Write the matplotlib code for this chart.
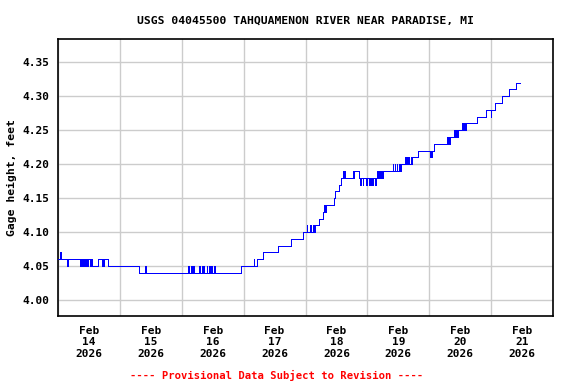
import datetime as dt

import matplotlib
matplotlib.use('Agg')
import matplotlib.pyplot as plt
import matplotlib.dates as mdates

# hours after 2026-02-14 00:00 where the gage reading changes, and the new reading (feet)
hours = [0.0, 0.6, 1.1, 3.6, 4.0,
         8.5, 9.0, 9.3, 9.55, 10.2, 10.45, 10.7, 10.95, 11.3, 11.55, 12.4, 12.65,
         13.3, 15.4, 16.9, 17.15, 17.5, 17.75, 19.5, 31.4, 33.7, 33.95,
         50.4, 50.65, 51.7, 51.95, 52.4, 52.65, 54.7, 54.95, 55.9, 56.15,
         56.5, 56.75, 57.6, 57.85, 58.6, 58.85, 59.5, 59.75, 60.5, 60.75,
         70.8, 75.9, 76.15, 77.2, 79.7, 85.5, 90.2, 95.0,
         96.5, 96.75, 97.8, 98.05, 99.1, 99.35,
         99.5, 101.2, 102.7, 103.2, 103.5, 104.0, 107.0, 107.6, 108.9, 109.8,
         110.6, 110.9, 111.1, 111.35, 114.3, 114.55, 115.0, 116.6,
         117.1, 117.35, 118.2, 118.45, 119.5, 119.75, 120.8, 121.05,
         121.4, 121.65, 122.1, 122.35, 123.1, 123.35,
         123.6, 123.85, 124.3, 124.55, 124.9, 125.15, 125.5, 125.75, 125.9,
         129.8, 130.05, 130.6, 130.85, 131.4, 131.65, 132.4, 132.65, 133.2,
         134.7, 134.95, 135.4, 135.65, 136.0, 136.25, 136.9, 137.15, 137.3, 139.5,
         144.3, 144.55, 145.0, 145.25, 145.9,
         150.7, 150.95, 151.4, 151.65, 152.0,
         153.7, 153.95, 154.4, 154.65, 155.0,
         156.8, 157.05, 157.5, 157.75, 158.4,
         162.7, 165.9, 167.8, 168.05, 169.5, 172.4, 175.0, 177.8, 179.1]
gage = [4.06, 4.07, 4.06, 4.05, 4.06,
        4.05, 4.06, 4.05, 4.06, 4.05, 4.06, 4.05, 4.06, 4.05, 4.06, 4.05, 4.06,
        4.05, 4.06, 4.05, 4.06, 4.05, 4.06, 4.05, 4.04, 4.05, 4.04,
        4.05, 4.04, 4.05, 4.04, 4.05, 4.04, 4.05, 4.04, 4.05, 4.04,
        4.05, 4.04, 4.05, 4.04, 4.05, 4.04, 4.05, 4.04, 4.05, 4.04,
        4.05, 4.06, 4.05, 4.06, 4.07, 4.08, 4.09, 4.10,
        4.11, 4.10, 4.11, 4.10, 4.11, 4.10,
        4.11, 4.12, 4.13, 4.14, 4.13, 4.14, 4.15, 4.16, 4.17, 4.18,
        4.19, 4.18, 4.19, 4.18, 4.19, 4.18, 4.19, 4.18,
        4.17, 4.18, 4.17, 4.18, 4.17, 4.18, 4.17, 4.18,
        4.17, 4.18, 4.17, 4.18, 4.17, 4.18,
        4.19, 4.18, 4.19, 4.18, 4.19, 4.18, 4.19, 4.18, 4.19,
        4.20, 4.19, 4.20, 4.19, 4.20, 4.19, 4.20, 4.19, 4.20,
        4.21, 4.20, 4.21, 4.20, 4.21, 4.20, 4.21, 4.20, 4.21, 4.22,
        4.21, 4.22, 4.21, 4.22, 4.23,
        4.24, 4.23, 4.24, 4.23, 4.24,
        4.25, 4.24, 4.25, 4.24, 4.25,
        4.26, 4.25, 4.26, 4.25, 4.26,
        4.27, 4.28, 4.27, 4.28, 4.29, 4.30, 4.31, 4.32, 4.32]

start = dt.datetime(2026, 2, 14)
times = [start + dt.timedelta(hours=h) for h in hours]
y_ticks = [4.00, 4.05, 4.10, 4.15, 4.20, 4.25, 4.30, 4.35]

mono = 'DejaVu Sans Mono'
fig = plt.figure(figsize=(5.76, 3.84), dpi=100)
ax = fig.add_axes([58 / 576, 1 - 316 / 384, 495 / 576, (316 - 39.3) / 384])

ax.plot(times, gage, color='#0000ff', linewidth=0.72, drawstyle='steps-post',
        antialiased=False, zorder=3)

ax.set_xlim(start, start + dt.timedelta(days=8))
ax.set_ylim(3.9765, 4.3838)

# gridlines at midnight, labels at noon
ax.xaxis.set_major_locator(mdates.DayLocator())
ax.xaxis.set_major_formatter(plt.NullFormatter())
ax.xaxis.set_minor_locator(mdates.HourLocator(byhour=[12]))
ax.xaxis.set_minor_formatter(mdates.DateFormatter('%b\n%d\n%Y'))
ax.set_yticks(y_ticks)
ax.set_yticklabels([f'{v:.2f}' for v in y_ticks])

ax.grid(True, which='major', color='#cccccc', linewidth=1.0)
ax.tick_params(axis='both', which='both', length=0)
ax.tick_params(axis='x', which='minor', pad=7)
ax.tick_params(axis='y', pad=6)
for lab in ax.get_xticklabels(minor=True) + ax.get_yticklabels():
    lab.set_fontfamily(mono)
    lab.set_fontweight('bold')
    lab.set_fontsize(8)
for spine in ax.spines.values():
    spine.set_linewidth(1.2)

ax.set_ylabel('Gage height, feet', fontfamily=mono, fontweight='bold', fontsize=8.2, labelpad=4)
ax.set_title('USGS 04045500 TAHQUAMENON RIVER NEAR PARADISE, MI',
             fontfamily=mono, fontweight='bold', fontsize=8.2, pad=11)
fig.text(277 / 576, 1 - 375 / 384, '---- Provisional Data Subject to Revision ----',
         color='red', fontfamily=mono, fontweight='bold', fontsize=7.6,
         ha='center', va='center')

fig.savefig('out.png', dpi=100)
